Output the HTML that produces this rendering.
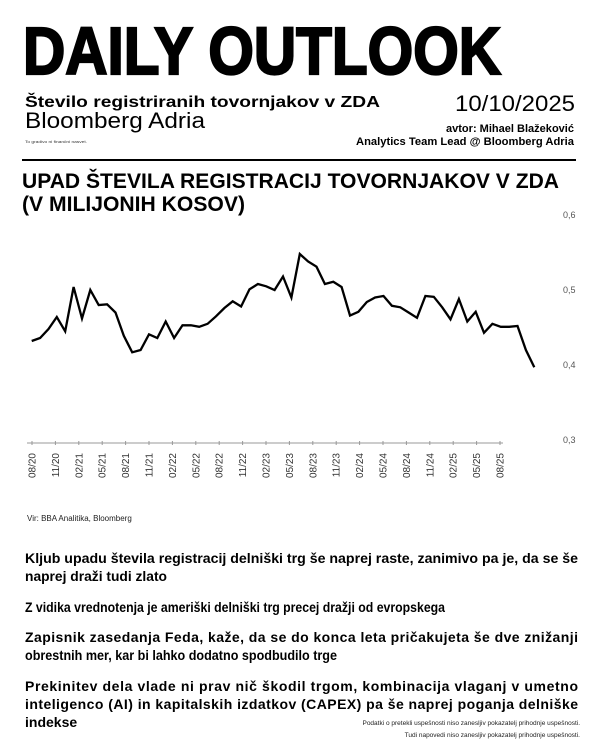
<!DOCTYPE html>
<html><head><meta charset="utf-8"><style>
html,body{margin:0;padding:0;background:#fff;}
svg{display:block;font-family:"Liberation Sans",sans-serif;}
</style></head><body>
<svg id="root" width="600" height="750" viewBox="0 0 600 750">
<text x="23" y="74" font-size="67" font-weight="bold" stroke="#000" stroke-width="2.2" textLength="478" lengthAdjust="spacingAndGlyphs">DAILY OUTLOOK</text>
<text x="25" y="107" font-size="15.5" font-weight="bold" textLength="355" lengthAdjust="spacingAndGlyphs">Število registriranih tovornjakov v ZDA</text>
<text x="25" y="128" font-size="22" textLength="180" lengthAdjust="spacingAndGlyphs">Bloomberg Adria</text>
<text x="25" y="143" font-size="4" fill="#333" textLength="62" lengthAdjust="spacingAndGlyphs">To gradivo ni finančni nasvet.</text>
<text x="575" y="111" font-size="22" text-anchor="end" textLength="120" lengthAdjust="spacingAndGlyphs">10/10/2025</text>
<text x="574" y="132" font-size="11" font-weight="bold" text-anchor="end" textLength="128" lengthAdjust="spacingAndGlyphs">avtor: Mihael Blažeković</text>
<text x="574" y="145" font-size="11" font-weight="bold" text-anchor="end" textLength="218" lengthAdjust="spacingAndGlyphs">Analytics Team Lead @ Bloomberg Adria</text>
<rect x="22" y="159" width="554" height="2" fill="#000"/>
<text x="22" y="188" font-size="21" font-weight="bold" textLength="537" lengthAdjust="spacingAndGlyphs">UPAD ŠTEVILA REGISTRACIJ TOVORNJAKOV V ZDA</text>
<text x="22" y="211" font-size="21" font-weight="bold" textLength="223" lengthAdjust="spacingAndGlyphs">(V MILIJONIH KOSOV)</text>
<g id="chart"></g>
<text x="27" y="521" font-size="8" fill="#222">Vir: BBA Analitika, Bloomberg</text>
<g font-size="14" font-weight="bold">
<text x="25" y="563" textLength="553" lengthAdjust="spacingAndGlyphs">Kljub upadu števila registracij delniški trg še naprej raste, zanimivo pa je, da se še</text>
<text x="25" y="581" textLength="142" lengthAdjust="spacingAndGlyphs">naprej draži tudi zlato</text>
<text x="25" y="612" textLength="420" lengthAdjust="spacingAndGlyphs">Z vidika vrednotenja je ameriški delniški trg precej dražji od evropskega</text>
<text x="25" y="642" textLength="553" lengthAdjust="spacing">Zapisnik zasedanja Feda, kaže, da se do konca leta pričakujeta še dve znižanji</text>
<text x="25" y="660" textLength="312" lengthAdjust="spacingAndGlyphs">obrestnih mer, kar bi lahko dodatno spodbudilo trge</text>
<text x="25" y="691" textLength="553" lengthAdjust="spacing">Prekinitev dela vlade ni prav nič škodil trgom, kombinacija vlaganj v umetno</text>
<text x="25" y="709" textLength="553" lengthAdjust="spacing">inteligenco (AI) in kapitalskih izdatkov (CAPEX) pa še naprej poganja delniške</text>
<text x="25" y="727">indekse</text>
</g>
<text x="580" y="725" font-size="6.5" fill="#222" text-anchor="end">Podatki o pretekli uspešnosti niso zanesljiv pokazatelj prihodnje uspešnosti.</text>
<text x="580" y="737" font-size="6.5" fill="#222" text-anchor="end">Tudi napovedi niso zanesljiv pokazatelj prihodnje uspešnosti.</text>
</svg>
<script>
const values = [0.432,0.436,0.448,0.464,0.445,0.504,0.462,0.500,0.480,0.481,0.470,0.439,0.417,0.420,0.441,0.436,0.458,0.436,0.453,0.453,0.451,0.455,0.465,0.476,0.485,0.478,0.501,0.508,0.505,0.500,0.518,0.490,0.548,0.538,0.531,0.508,0.511,0.504,0.466,0.471,0.484,0.490,0.492,0.479,0.477,0.470,0.463,0.492,0.491,0.477,0.461,0.488,0.458,0.471,0.443,0.455,0.451,0.451,0.452,0.420,0.397];
const yTicks = [0.6,0.5,0.4,0.3];
const yTickLabels = ["0,6","0,5","0,4","0,3"];
const xTickIndex = [0,3,6,9,12,15,18,21,24,27,30,33,36,39,42,45,48,51,54,57,60];
const xTickLabels = ["08/20","11/20","02/21","05/21","08/21","11/21","02/22","05/22","08/22","11/22","02/23","05/23","08/23","11/23","02/24","05/24","08/24","11/24","02/25","05/25","08/25"];

const NS="http://www.w3.org/2000/svg";
const g=document.getElementById('chart');
const x0=31.7, x1=534.3;
const xs=i=>x0+i*(x1-x0)/(values.length-1);
const tx0=32, tx1=500;
const txs=i=>tx0+i*(tx1-tx0)/(values.length-1);
const ys=v=>215+(0.6-v)*750;
function mk(tag,attrs){const e=document.createElementNS(NS,tag);for(const k in attrs)e.setAttribute(k,attrs[k]);return e;}

yTicks.forEach((v,i)=>{
  const t=mk('text',{x:563,y:ys(v)+3,'font-size':9,fill:'#555'});
  t.textContent=yTickLabels[i];
  
  
  g.appendChild(t);
});
const axisY=ys(0.3)+3;
const ax=mk('line',{x1:27,x2:503,y1:axisY,y2:axisY,stroke:'#999','stroke-width':1});


g.appendChild(ax);
xTickIndex.forEach((idx,i)=>{
  const x=txs(idx);
  const tk=mk('line',{x1:x,x2:x,y1:axisY-2,y2:axisY+2,stroke:'#999','stroke-width':1});
  
  
  g.appendChild(tk);
  const t=mk('text',{x:0,y:0,'font-size':10,fill:'#333','text-anchor':'end',transform:`translate(${x+3.5},${axisY+10}) rotate(-90)`});
  t.textContent=xTickLabels[i];
  
  
  g.appendChild(t);
});
const d=values.map((v,i)=>(i?'L':'M')+xs(i).toFixed(1)+','+ys(v).toFixed(1)).join('');
const p=mk('path',{d:d,fill:'none',stroke:'#000','stroke-width':2.3,'stroke-linejoin':'miter'});


g.appendChild(p);
</script>
</body></html>
